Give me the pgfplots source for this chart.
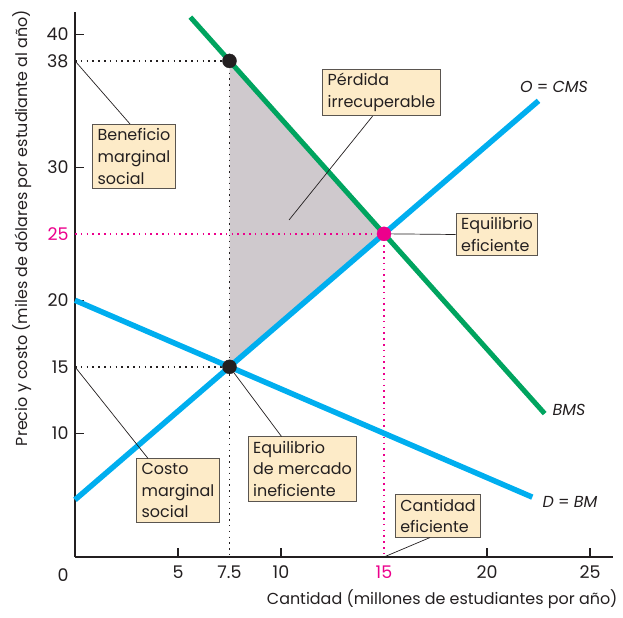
\documentclass[border=0pt]{standalone}
\usepackage{pgfplots}
\pgfplotsset{compat=1.18}
\usepackage{fontspec}
\setmainfont{Poppins}
\definecolor{boxfill}{HTML}{FDEBC8}
\definecolor{boxdraw}{HTML}{5A5550}
\definecolor{tri}{HTML}{CFC9CD}
\definecolor{mycyan}{HTML}{00AEEF}
\definecolor{mygreen}{HTML}{00A45F}
\definecolor{mypink}{HTML}{EC008C}
\definecolor{dotblack}{HTML}{231F20}
\tikzset{
  lbl/.style={draw=boxdraw, line width=0.9bp, fill=boxfill, align=left, inner xsep=5bp, inner ysep=4bp,
    font=\fontsize{16}{22}\selectfont, text=dotblack},
  conn/.style={draw=dotblack, line width=0.7bp},
  bdot/.style={dotblack, line width=1.5bp, dash pattern=on 1.5bp off 4.3bp},
  pdot/.style={mypink, line width=1.5bp, dash pattern=on 1.5bp off 4.3bp},
}
\begin{document}
\begin{tikzpicture}
\useasboundingbox (-75bp,-61bp) rectangle (548bp,557bp);
\begin{axis}[
  at={(0,0)}, anchor=south west,
  x=20.6bp, y=13.3bp,
  xmin=0, xmax=26.1, ymin=0.7, ymax=41.7,
  axis x line=bottom, axis y line=left,
  axis line style={-, line width=1.3bp, dotblack},
  tick align=inside, major tick length=9bp,
  tick style={line width=1.2bp, dotblack},
  xtick={5,10,20,25}, ytick={10,20,30,40},
  extra x ticks={7.5,15}, extra x tick labels={7.5,\textcolor{mypink}{15}},
  extra y ticks={15,25,38}, extra y tick labels={15,\textcolor{mypink}{25},38},
  extra tick style={major tick length=0pt},
  /pgf/number format/assume math mode=true,
  ticklabel style={font=\fontsize{17.5}{17.5}\selectfont, text=dotblack},
  xticklabel style={yshift=-5bp},
  yticklabel style={xshift=-3bp},
  clip=false,
]
% deadweight loss triangle
\addplot[fill=tri, draw=none] coordinates {(7.5,38) (15,25) (7.5,15) (7.5,38)};
% dotted guides
\addplot[bdot] coordinates {(0,38) (7.5,38)};
\addplot[bdot] coordinates {(7.5,38) (7.5,0.7)};
\addplot[bdot] coordinates {(0,15) (7.5,15)};
\addplot[pdot] coordinates {(0,25) (15,25)};
\addplot[pdot] coordinates {(15,25) (15,0.7)};
% curves
\addplot[mycyan, line width=5.5bp] coordinates {(0,20) (22.2,5.2)};
\addplot[mycyan, line width=5.5bp] coordinates {(0,5) (22.5,35)};
\addplot[mygreen, line width=5bp] coordinates {(5.6,41.29) (22.8,11.48)}
  node[pos=1, anchor=west, xshift=2bp, yshift=4bp, font=\fontsize{16}{16}\selectfont\itshape, text=dotblack] {BMS};
% points
\addplot[only marks, mark=*, mark size=7bp, dotblack] coordinates {(7.5,38) (7.5,15)};
\addplot[only marks, mark=*, mark size=7bp, mypink] coordinates {(15,25)};
% anchors for connectors
\coordinate (a38) at (axis cs:0,38);
\coordinate (a15) at (axis cs:0,15);
\coordinate (pA) at (axis cs:7.5,15);
\coordinate (pE) at (axis cs:15,25);
\coordinate (pT) at (axis cs:10.39,26.04);
\coordinate (q15) at (axis cs:15,0.7);
\end{axis}
% labels
\node[font=\fontsize{17.5}{17.5}\selectfont, text=dotblack] at (-12bp,-18bp) {0};
\node[anchor=north east, font=\fontsize{16}{16}\selectfont, text=dotblack] at (546bp,-29bp)
  {Cantidad (millones de estudiantes por año)};
\node[rotate=90, font=\fontsize{16}{16}\selectfont, text=dotblack] at (-53bp,329bp)
  {Precio y costo (miles de dólares por estudiante al año)};
\node[font=\fontsize{16}{16}\selectfont, text=dotblack] at (479bp,470bp) {\textit{O} = \textit{CMS}};
\node[font=\fontsize{16}{16}\selectfont, text=dotblack] at (495bp,55bp) {\textit{D} = \textit{BM}};
% boxes
\node[lbl] (benef) at (59bp,400.5bp) {Beneficio\\marginal\\social};
\node[lbl] (perd) at (306.5bp,464.5bp) {Pérdida\\irrecuperable};
\node[lbl] (eqe) at (422bp,322.5bp) {Equilibrio\\eficiente};
\node[lbl] (costo) at (103bp,66.5bp) {Costo\\marginal\\social};
\node[lbl] (eqm) at (227.5bp,88bp) {Equilibrio\\de mercado\\ineficiente};
\node[lbl] (cant) at (363bp,41bp) {Cantidad\\eficiente};
% connectors
\draw[conn] (a38) -- ([xshift=-4bp]benef.north);
\draw[conn] (pT) -- ([xshift=-9bp]perd.south);
\draw[conn, shorten <=7bp] (pE) -- (eqe.west);
\draw[conn] (a15) -- ([xshift=-30bp]costo.north);
\draw[conn, shorten <=7bp] (pA) -- ([xshift=-21bp]eqm.north);
\draw[conn] (q15) -- ([xshift=-8bp]cant.south);
\end{tikzpicture}
\end{document}
